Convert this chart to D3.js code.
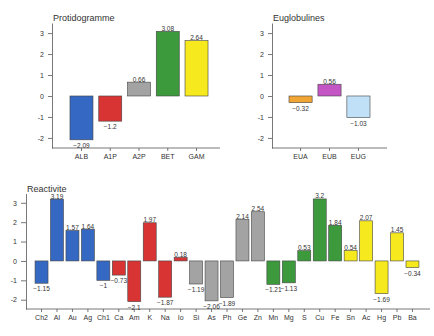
<!DOCTYPE html>
<html>
<head>
<meta charset="utf-8">
<script src="https://cdn.jsdelivr.net/npm/d3@7"></script>
<style>
  body { margin: 0; background: #fff; }
  svg text { font-family: "Liberation Sans", Arial, sans-serif; fill: #333; }
</style>
</head>
<body>
<svg id="chart" width="434" height="336"></svg>
<script>
// data
var protCats = ["ALB", "A1P", "A2P", "BET", "GAM"];
var protVals = [-2.09, -1.2, 0.66, 3.08, 2.64];
var protCols = ["#3568c2", "#d83434", "#a3a3a3", "#3c9a3c", "#f6e91e"];

var eugCats = ["EUA", "EUB", "EUG"];
var eugVals = [-0.32, 0.56, -1.03];
var eugCols = ["#f0a535", "#c455c4", "#bfe0f6"];

var reaCats = ["Ch2", "Al", "Au", "Ag", "Ch1", "Ca", "Am", "K", "Na", "Io", "Si", "As", "Ph",
  "Ge", "Zn", "Mn", "Mg", "S", "Cu", "Fe", "Sn", "Ac", "Hg", "Pb", "Ba"];
var reaVals = [-1.15, 3.19, 1.57, 1.64, -1, -0.73, -2.1, 1.97, -1.87, 0.18, -1.19, -2.06, -1.89,
  2.14, 2.54, -1.21, -1.13, 0.53, 3.2, 1.84, 0.54, 2.07, -1.69, 1.45, -0.34];
var reaGroupCols = ["#3568c2", "#d83434", "#a3a3a3", "#3c9a3c", "#f6e91e"];

var yTicks = [-2, -1, 0, 1, 2, 3];

var svg = d3.select("#chart");

function panel(opts) {
  var g = svg.append("g");
  var x = d3.scaleBand().domain(opts.cats).range(opts.xRange)
    .paddingInner(opts.pad).paddingOuter(opts.pad / 2);
  var y = d3.scaleLinear().domain([-2.48, 3.48]).range(opts.yRange);

  // y axis
  var ya = g.append("g")
    .attr("transform", "translate(" + opts.axisX + ",0)")
    .call(d3.axisLeft(y).tickValues(yTicks).tickFormat(function(d) { return String(d); })
      .tickSize(opts.tick).tickSizeOuter(0).tickPadding(opts.tickPad));
  ya.selectAll("text").style("font-size", "7px");
  ya.selectAll("line, path").attr("stroke", "#555").attr("stroke-width", 0.8);

  // x axis
  var xa = g.append("g")
    .attr("transform", "translate(0," + opts.yRange[0] + ")")
    .call(d3.axisBottom(x).tickSize(3).tickPadding(3));
  xa.select(".domain").remove();
  xa.selectAll("text").style("font-size", opts.xFont);
  xa.selectAll("line").attr("stroke", "#555").attr("stroke-width", 0.8);
  g.append("line")
    .attr("x1", opts.axisX).attr("x2", opts.lineEnd)
    .attr("y1", opts.yRange[0]).attr("y2", opts.yRange[0])
    .attr("stroke", "#555").attr("stroke-width", 0.8);

  // title
  g.append("text")
    .attr("x", opts.axisX + 1).attr("y", opts.yRange[1] - 2)
    .style("font-size", "9px")
    .text(opts.title);

  // bars
  g.selectAll("rect.bar")
    .data(opts.vals)
    .enter()
    .append("rect")
    .attr("class", "bar")
    .attr("x", function(d, i) { return x(opts.cats[i]); })
    .attr("y", function(d) { return y(Math.max(0, d)); })
    .attr("width", x.bandwidth())
    .attr("height", function(d) { return Math.abs(y(d) - y(0)); })
    .attr("fill", function(d, i) { return opts.color(i); })
    .attr("stroke", "#444")
    .attr("stroke-width", 0.6);

  // value labels
  g.selectAll("text.val")
    .data(opts.vals)
    .enter()
    .append("text")
    .attr("class", "val")
    .attr("x", function(d, i) { return x(opts.cats[i]) + x.bandwidth() / 2; })
    .attr("y", function(d) { return d >= 0 ? y(d) - 0.5 : y(d) + 8; })
    .attr("text-anchor", "middle")
    .style("font-size", "6.5px")
    .text(function(d) { return d < 0 ? "\u2212" + Math.abs(d) : d; });
}

panel({
  title: "Protidogramme", cats: protCats, vals: protVals,
  color: function(i) { return protCols[i]; },
  xRange: [67.1, 210.9], pad: 0.2, yRange: [148, 23],
  axisX: 52, lineEnd: 220, tick: 4, tickPad: 4, xFont: "7px"
});

panel({
  title: "Euglobulines", cats: eugCats, vals: eugVals,
  color: function(i) { return eugCols[i]; },
  xRange: [286.1, 372.9], pad: 0.2, yRange: [148, 23],
  axisX: 272, lineEnd: 387, tick: 4, tickPad: 4, xFont: "7px"
});

panel({
  title: "Reactivite", cats: reaCats, vals: reaVals,
  color: function(i) { return reaGroupCols[Math.floor(i / 5)]; },
  xRange: [33.8, 420.2], pad: 0.16, yRange: [309, 193.5],
  axisX: 26, lineEnd: 430, tick: 5, tickPad: 4, xFont: "7px"
});
</script>
</body>
</html>
